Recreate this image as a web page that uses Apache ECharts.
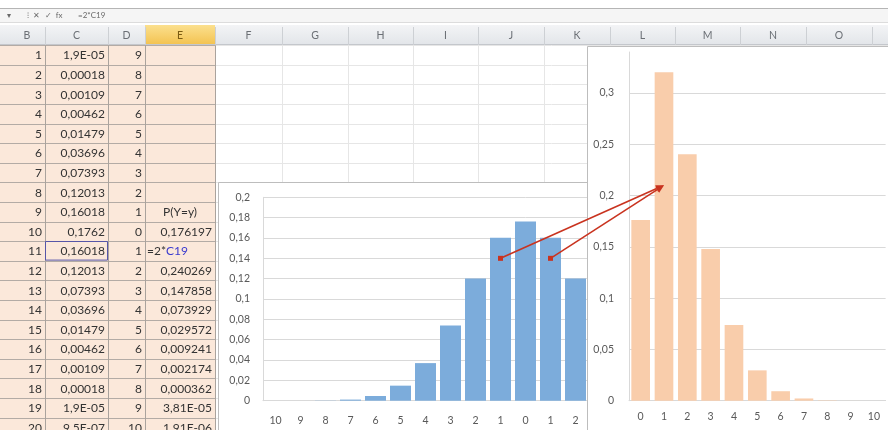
<!DOCTYPE html>
<html>
<head>
<meta charset="utf-8">
<script src="https://cdn.jsdelivr.net/npm/echarts@6/dist/echarts.min.js"></script>
<style>
  html, body { margin: 0; padding: 0; background: #fff; }
  #main { width: 888px; height: 430px; }
</style>
</head>
<body>
<div id="main"></div>
<script>
// ---- data ----
// symmetric distribution of X (category labels as printed on the axis)
const blueLabels = ['10','9','8','7','6','5','4','3','2','1','0','1','2','3','4','5','6','7','8','9','10'];
const blueValues = [9.5e-7, 1.9e-5, 0.00018, 0.00109, 0.00462, 0.01479, 0.03696, 0.07393, 0.12013, 0.16018,
                    0.1762, 0.16018, 0.12013, 0.07393, 0.03696, 0.01479, 0.00462, 0.00109, 0.00018, 1.9e-5, 9.5e-7];
// distribution of Y = |X|
const orangeLabels = ['0','1','2','3','4','5','6','7','8','9','10'];
const orangeValues = [0.176197, 0.32036, 0.240269, 0.147858, 0.073929, 0.029572, 0.009241, 0.002174, 0.000362, 3.81e-5, 1.91e-6];
// y-axis scales
const blueAxis = { min: 0, max: 0.2, interval: 0.02 };
const orangeAxis = { min: 0, max: 0.34, interval: 0.05 };
// sheet column headers
const columnLetters = ['B','C','D','E','F','G','H','I','J','K','L','M','N','O'];
// arrow anchors: [category index, value] in the left chart -> point in the right chart
const arrowFrom = [[9, 0.14], [11, 0.14]];
const arrowTo = [1, 0.21];

// ---- layout ----
const colEdges = [9, 45, 108, 145, 215, 282, 348, 413, 478, 544, 610, 675, 740, 806, 872];
const headerTop = 25, headerBottom = 45, rowTop = 45.2, rowH = 19.6, rowCount = 20;
const SHEET_FONT = 'Lato, "Open Sans", sans-serif';
const CHART_FONT = 'Lato, "Open Sans", sans-serif';
const TEXT = '#333333';
const PEACH = '#fbe8da';

const comma = v => String(+(+v).toFixed(6)).replace('.', ',');
function excelNum(v) {
  if (v < 1e-4) {
    const parts = v.toExponential().split('e');
    const e = Math.abs(+parts[1]);
    return parts[0].replace('.', ',') + 'E-' + String(e).padStart(2, '0');
  }
  return String(v).replace('.', ',');
}

const chart = echarts.init(document.getElementById('main'), null, { renderer: 'canvas' });

const axisLabelBase = { color: '#595959', fontSize: 10.5, fontFamily: CHART_FONT };
const gridLine = { color: '#d9d9d9', width: 1 };

const option = {
  animation: false,
  grid: [
    { left: 263, top: 197.3, width: 525, height: 203.4, containLabel: false, outerBoundsMode: 'none' },
    { left: 629, top: 52, width: 256.6, height: 348.7, containLabel: false, outerBoundsMode: 'none' }
  ],
  xAxis: [
    {
      type: 'category', gridIndex: 0, data: blueLabels, z: 5,
      axisTick: { show: false },
      axisLine: { lineStyle: gridLine },
      axisLabel: Object.assign({ interval: 0, margin: 14 }, axisLabelBase)
    },
    {
      type: 'category', gridIndex: 1, data: orangeLabels, zlevel: 1, z: 5,
      axisTick: { show: false },
      axisLine: { lineStyle: gridLine },
      axisLabel: Object.assign({ interval: 0, margin: 10 }, axisLabelBase)
    }
  ],
  yAxis: [
    {
      type: 'value', gridIndex: 0, min: blueAxis.min, max: blueAxis.max, interval: blueAxis.interval, z: 5,
      axisLine: { show: true, lineStyle: gridLine },
      axisTick: { show: false },
      splitLine: { lineStyle: gridLine },
      axisLabel: Object.assign({ margin: 13, formatter: comma }, axisLabelBase)
    },
    {
      type: 'value', gridIndex: 1, min: orangeAxis.min, max: orangeAxis.max, interval: orangeAxis.interval,
      zlevel: 1, z: 5,
      axisLine: { show: true, lineStyle: gridLine },
      axisTick: { show: false },
      splitLine: { lineStyle: gridLine, showMaxLine: false },
      axisLabel: Object.assign({ margin: 15, formatter: comma, showMaxLabel: false }, axisLabelBase)
    }
  ],
  series: [
    {
      type: 'bar', xAxisIndex: 0, yAxisIndex: 0, data: blueValues, z: 6,
      barCategoryGap: '16%', itemStyle: { color: '#7cacdb' }
    },
    {
      type: 'bar', xAxisIndex: 1, yAxisIndex: 1, data: orangeValues, zlevel: 1, z: 6,
      barCategoryGap: '20%', itemStyle: { color: '#f9cdab' }
    }
  ]
};
chart.setOption(option);

// ---- worksheet drawn underneath the charts ----
function sheetGraphics() {
  const g = [];
  const W = 888;
  const rowY = i => rowTop + i * rowH;          // top of row i (0-based)
  const peachRight = colEdges[4];

  // formula bar
  g.push({ type: 'rect', z: 0, z2: 0, shape: { x: 0, y: 8, width: W, height: 14 }, style: { fill: '#f5f5f5' } });
  g.push({ type: 'line', z: 0, z2: 1, shape: { x1: 0, y1: 8.5, x2: W, y2: 8.5 }, style: { stroke: '#b5b5b5', lineWidth: 1 } });
  g.push({ type: 'line', z: 0, z2: 1, shape: { x1: 0, y1: 22.5, x2: W, y2: 22.5 }, style: { stroke: '#dcdcdc', lineWidth: 1 } });
  g.push({ type: 'text', z: 0, z2: 2, x: 7, y: 15, style: {
    text: '▾        ⁝  ✕  ✓  fx', fontSize: 8, fontFamily: SHEET_FONT, fill: '#6a6a6a', verticalAlign: 'middle' } });
  g.push({ type: 'text', z: 0, z2: 2, x: 78, y: 15, style: {
    text: '=2*C19', fontSize: 8, fontFamily: SHEET_FONT, fill: '#6a6a6a', verticalAlign: 'middle' } });

  // column header row
  g.push({ type: 'rect', z: 0, z2: 0, shape: { x: 0, y: headerTop, width: W, height: headerBottom - headerTop },
    style: { fill: { type: 'linear', x: 0, y: 0, x2: 0, y2: 1, colorStops: [
      { offset: 0, color: '#f3f4f6' }, { offset: 1, color: '#e2e5e9' }] } } });
  g.push({ type: 'rect', z: 0, z2: 1, shape: { x: colEdges[3], y: headerTop, width: colEdges[4] - colEdges[3], height: headerBottom - headerTop },
    style: { fill: { type: 'linear', x: 0, y: 0, x2: 0, y2: 1, colorStops: [
      { offset: 0, color: '#fbe08e' }, { offset: 1, color: '#f3c24f' }] } } });
  g.push({ type: 'line', z: 0, z2: 2, shape: { x1: 0, y1: headerBottom - 0.5, x2: W, y2: headerBottom - 0.5 }, style: { stroke: '#c4c7cc', lineWidth: 1 } });
  for (let c = 1; c < colEdges.length; c++) {
    const x = Math.round(colEdges[c]) + 0.5;
    g.push({ type: 'line', z: 0, z2: 2, shape: { x1: x, y1: headerTop + 2, x2: x, y2: headerBottom }, style: { stroke: '#cdd0d4', lineWidth: 1 } });
  }
  columnLetters.forEach((L, c) => {
    const cx = (colEdges[c] + (colEdges[c + 1] !== undefined ? colEdges[c + 1] : colEdges[c] + 66)) / 2;
    g.push({ type: 'text', z: 0, z2: 3, x: cx, y: (headerTop + headerBottom) / 2 + 1, style: {
      text: L, fontSize: 10.5, fontFamily: SHEET_FONT, fill: L === 'E' ? '#7a5b12' : '#6b6f75', align: 'center', verticalAlign: 'middle' } });
  });

  // shaded table area (columns B..E)
  g.push({ type: 'rect', z: 0, z2: 0, shape: { x: 0, y: rowTop, width: peachRight, height: 430 - rowTop }, style: { fill: PEACH } });

  // grid lines
  for (let i = 0; i <= rowCount; i++) {
    const y = Math.round(rowY(i)) + 0.5;
    g.push({ type: 'line', z: 0, z2: 1, shape: { x1: 0, y1: y, x2: peachRight, y2: y }, style: { stroke: '#b3aba5', lineWidth: 1 } });
    g.push({ type: 'line', z: 0, z2: 1, shape: { x1: peachRight, y1: y, x2: W, y2: y }, style: { stroke: '#e6e6e6', lineWidth: 1 } });
  }
  for (let c = 1; c < colEdges.length; c++) {
    const x = Math.round(colEdges[c]) + 0.5;
    g.push({ type: 'line', z: 0, z2: 1, shape: { x1: x, y1: rowTop, x2: x, y2: 430 },
      style: { stroke: c <= 4 ? '#aaa39d' : '#e6e6e6', lineWidth: 1 } });
  }

  // cell contents
  const cellText = (x, i, text, align, extra) => {
    g.push({ type: 'text', z: 0, z2: 4, x: x, y: rowY(i) + rowH / 2 + 0.5, style: Object.assign({
      text: text, fontSize: 12, fontFamily: SHEET_FONT, fill: TEXT, align: align, verticalAlign: 'middle' }, extra || {}) });
  };
  for (let i = 0; i < rowCount; i++) {
    cellText(colEdges[1] - 3, i, String(i + 1), 'right');
    cellText(colEdges[2] - 3, i, excelNum(blueValues[i + 1]), 'right');
    cellText(colEdges[3] - 3, i, blueLabels[i + 1], 'right');
  }
  cellText((colEdges[3] + colEdges[4]) / 2, 8, 'P(Y=y)', 'center');
  for (let k = 0; k < orangeValues.length; k++) {
    const i = 9 + k;
    if (k === 1) {
      cellText(colEdges[3] + 2, i, '{a|=2*}{b|C19}', 'left', {
        rich: { a: { fill: TEXT, fontSize: 12, fontFamily: SHEET_FONT }, b: { fill: '#3a3acf', fontSize: 12, fontFamily: SHEET_FONT } } });
    } else {
      cellText(colEdges[4] - 3, i, excelNum(orangeValues[k]), 'right');
    }
  }
  // referenced cell outline
  g.push({ type: 'rect', z: 0, z2: 5, shape: { x: colEdges[1] + 0.5, y: Math.round(rowY(10)) + 0.5, width: colEdges[2] - colEdges[1] - 1, height: rowH - 1 },
    style: { fill: null, stroke: '#5656a8', lineWidth: 1 } });

  // chart panels
  g.push({ type: 'rect', z: 1, shape: { x: 218.5, y: 182.5, width: 380, height: 260 }, style: { fill: '#ffffff', stroke: '#bdbdbd', lineWidth: 1 } });
  g.push({ type: 'rect', zlevel: 1, z: 1, shape: { x: 587.5, y: 46.5, width: 320, height: 400 }, style: { fill: '#ffffff', stroke: '#bdbdbd', lineWidth: 1 } });
  return g;
}

// ---- arrows linking the two charts ----
function arrowGraphics() {
  const g = [];
  const RED = '#c9331f';
  const tip = chart.convertToPixel({ gridIndex: 1 }, arrowTo);
  arrowFrom.forEach(p => {
    const s = chart.convertToPixel({ gridIndex: 0 }, p);
    const dx = tip[0] - s[0], dy = tip[1] - s[1];
    const len = Math.hypot(dx, dy);
    const ux = dx / len, uy = dy / len;
    const headL = 8, headW = 3.6;
    const bx = tip[0] - ux * headL, by = tip[1] - uy * headL;
    g.push({ type: 'line', zlevel: 2, shape: { x1: s[0], y1: s[1], x2: bx, y2: by }, style: { stroke: RED, lineWidth: 1.6 } });
    g.push({ type: 'polygon', zlevel: 2, shape: { points: [
      [tip[0], tip[1]], [bx - uy * headW, by + ux * headW], [bx + uy * headW, by - ux * headW]] }, style: { fill: RED } });
    g.push({ type: 'rect', zlevel: 2, shape: { x: s[0] - 2.5, y: s[1] - 2.5, width: 5, height: 5 }, style: { fill: RED } });
  });
  return g;
}

chart.setOption({ graphic: sheetGraphics().concat(arrowGraphics()) });
</script>
</body>
</html>
